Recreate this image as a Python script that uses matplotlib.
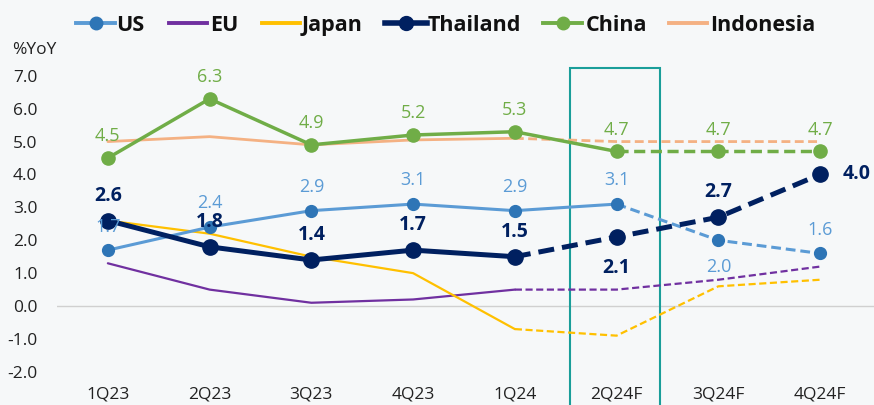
import matplotlib
matplotlib.use("Agg")
import matplotlib.pyplot as plt
from matplotlib.lines import Line2D
from matplotlib.patches import Rectangle
import matplotlib.transforms as mtransforms

plt.rcParams['font.family'] = ['Open Sans', 'DejaVu Sans']

quarters = ["1Q23", "2Q23", "3Q23", "4Q23", "1Q24", "2Q24F", "3Q24F", "4Q24F"]
us = [1.7, 2.4, 2.9, 3.1, 2.9, 3.1, 2.0, 1.6]
eu = [1.3, 0.5, 0.1, 0.2, 0.5, 0.5, 0.8, 1.2]
japan = [2.6, 2.2, 1.5, 1.0, -0.7, -0.9, 0.6, 0.8]
thailand = [2.6, 1.8, 1.4, 1.7, 1.5, 2.1, 2.7, 4.0]
china = [4.5, 6.3, 4.9, 5.2, 5.3, 4.7, 4.7, 4.7]
indonesia = [5.0, 5.15, 4.9, 5.05, 5.1, 5.0, 5.0, 5.0]
yticks = [7.0, 6.0, 5.0, 4.0, 3.0, 2.0, 1.0, 0.0, -1.0, -2.0]
series_names = ["US", "EU", "Japan", "Thailand", "China", "Indonesia"]

C_US, C_USM = "#5b9bd5", "#2e75b6"
C_EU = "#7030a0"
C_JP = "#ffc000"
C_TH = "#002060"
C_CN = "#70ad47"
C_ID = "#f4b183"
C_BOX = "#1a9e9a"

W, H = 874, 405
fig = plt.figure(figsize=(W/100, H/100), dpi=100)
fig.patch.set_facecolor("#f6f8f9")
ax = fig.add_axes([57/W, 1-385/H, 1-57/W, 325/H])
ax.set_facecolor("none")
ax.set_xlim(-0.5, 7.53)
ax.set_ylim(-2.4, 7.48)

x = list(range(len(quarters)))

def draw(vals, split, color, lw, mcolor=None, ms=0, z=2):
    ax.plot(x[:split+1], vals[:split+1], color=color, lw=lw, solid_capstyle='round', zorder=z)
    ax.plot(x[split:], vals[split:], color=color, lw=lw, ls=(0, (3.2, 1.6)), zorder=z)
    if ms:
        ax.plot(x, vals, ls='none', marker='o', ms=ms, color=mcolor or color, zorder=z+0.5)

ax.axhline(0, color="#d0d0d0", lw=1, zorder=1)
draw(indonesia, 4, C_ID, 2.0, z=2)
draw(eu, 4, C_EU, 1.6, z=3)
draw(japan, 4, C_JP, 1.6, z=3)
draw(us, 5, C_US, 2.2, C_USM, 8.5, z=4)
draw(china, 5, C_CN, 2.5, C_CN, 9.5, z=5)
draw(thailand, 4, C_TH, 3.6, C_TH, 11, z=6)

fs = 13
for i, v in enumerate(china):
    ax.annotate(f"{v:.1f}", (i, v), xytext=(0, 15.5), textcoords='offset points',
                ha='center', va='center', color=C_CN, fontsize=fs, zorder=10)
for i, v in enumerate(us):
    dy = -19 if i == 6 else 17
    ax.annotate(f"{v:.1f}", (i, v), xytext=(0, dy), textcoords='offset points',
                ha='center', va='center', color=C_US, fontsize=fs, zorder=10)
for i, v in enumerate(thailand):
    if i == 7:
        off, ha = (16, 0), 'left'
    elif i == 5:
        off, ha = (0, -22), 'center'
    else:
        off, ha = (0, 18), 'center'
    ax.annotate(f"{v:.1f}", (i, v), xytext=off, textcoords='offset points',
                ha=ha, va='center', color=C_TH, fontsize=14, fontweight='bold', zorder=10)

ax.set_yticks(yticks)
ax.set_yticklabels([f"{t:.1f}" for t in yticks], fontsize=12.5, color="#222222")
ax.set_xticks(x)
ax.set_xticklabels(quarters, fontsize=12.5, color="#222222")
ax.tick_params(axis='y', length=0, pad=14)
ax.tick_params(axis='x', length=0, pad=1)
for s in ax.spines.values():
    s.set_visible(False)

trans = mtransforms.blended_transform_factory(ax.transData, fig.transFigure)
ax.add_patch(Rectangle((4.54, -0.01), 0.89, 1 - 68/H + 0.01, transform=trans,
                       fill=False, edgecolor=C_BOX, lw=1.5, clip_on=False, zorder=1))

fig.text(12/W, 1-50/H, "%YoY", fontsize=12.5, color="#222222", va='center', ha='left')

# legend drawn manually (handle + label)
leg_style = [
    dict(color=C_US, lw=2.8, marker='o', ms=9, mfc=C_USM, mec=C_USM),
    dict(color=C_EU, lw=2.8),
    dict(color=C_JP, lw=2.8),
    dict(color=C_TH, lw=4.0, marker='o', ms=10),
    dict(color=C_CN, lw=2.8, marker='o', ms=9),
    dict(color=C_ID, lw=2.8),
]
handle_x0 = [76, 169, 262, 385, 543, 669]
handle_x1 = [115, 207, 300, 427, 582, 707]
text_x = [116, 210, 302, 428, 586, 710]
ly = 1 - 23/H
for name, st, a, b, t in zip(series_names, leg_style, handle_x0, handle_x1, text_x):
    fig.add_artist(Line2D([a/W, b/W], [ly, ly], transform=fig.transFigure,
                          markevery=[], **{k: v for k, v in st.items() if k not in ('marker', 'ms', 'mfc', 'mec')}))
    if 'marker' in st:
        fig.add_artist(Line2D([(a+b)/2/W], [ly], transform=fig.transFigure, ls='none',
                              marker='o', ms=st['ms'], mfc=st.get('mfc', st['color']),
                              mec=st.get('mec', st['color'])))
    fig.text(t/W, ly, name, fontsize=15.5, fontweight='bold', color="#111111",
             ha='left', va='center_baseline')

fig.savefig("out.png", dpi=100, facecolor=fig.get_facecolor())
